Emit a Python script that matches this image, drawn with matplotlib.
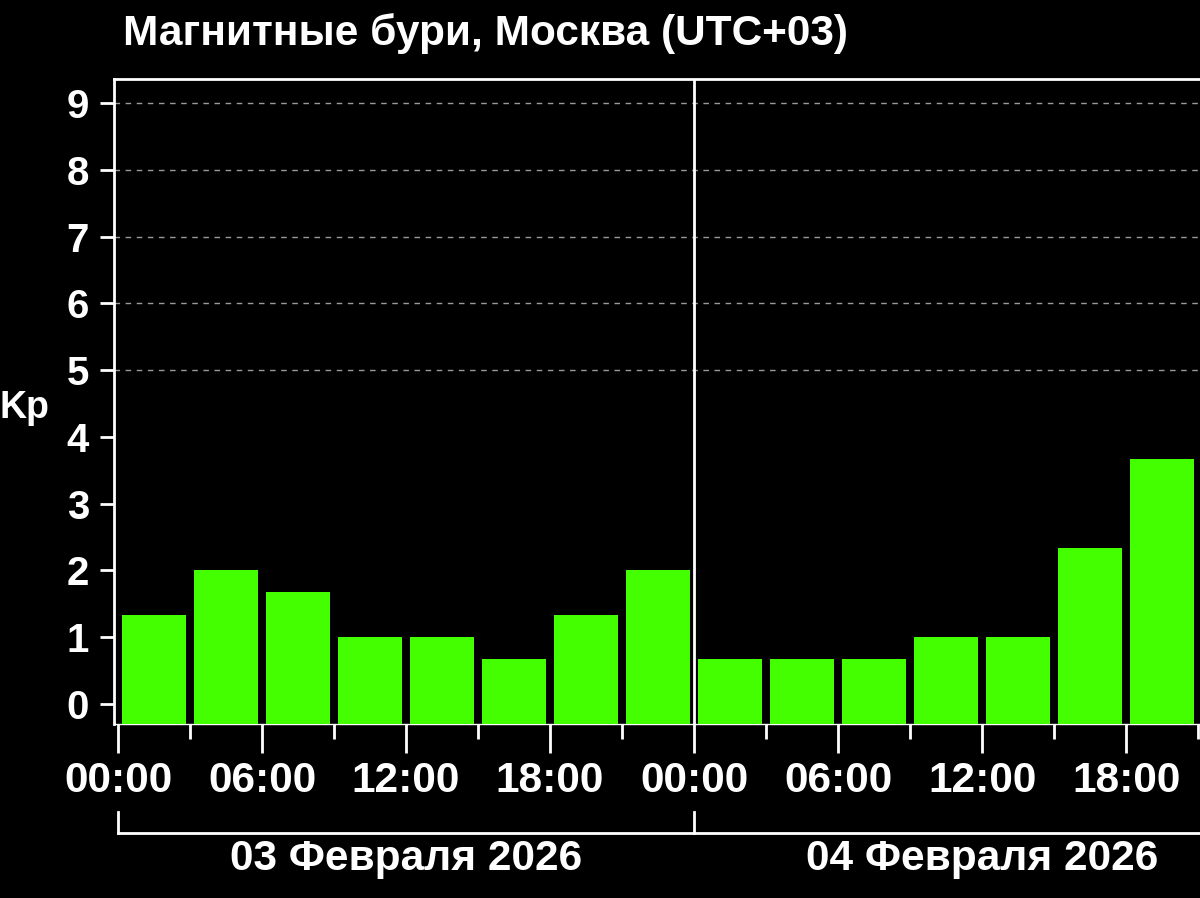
import matplotlib
matplotlib.use("Agg")
import matplotlib.pyplot as plt

# Kp-индекс, интервалы по 3 часа (Москва, UTC+03)
часы = [1.5, 4.5, 7.5, 10.5, 13.5, 16.5, 19.5, 22.5,
        25.5, 28.5, 31.5, 34.5, 37.5, 40.5, 43.5]
kp = [1.33, 2.0, 1.67, 1.0, 1.0, 0.67, 1.33, 2.0,
      0.67, 0.67, 0.67, 1.0, 1.0, 2.33, 3.67]
major_ticks = [0, 6, 12, 18, 24, 30, 36, 42]
major_labels = ["00:00", "06:00", "12:00", "18:00", "00:00", "06:00", "12:00", "18:00"]
minor_ticks = [3, 9, 15, 21, 27, 33, 39, 45]
y_ticks = [0, 1, 2, 3, 4, 5, 6, 7, 8, 9]
grid_levels = [5, 6, 7, 8, 9]
дни = ["03 Февраля 2026", "04 Февраля 2026"]
дни_центр = [12, 36]
дни_начало = [0, 24]

Y_MIN, Y_MAX = -0.30, 9.36

plt.rcParams["font.family"] = ["Liberation Sans", "DejaVu Sans"]
plt.rcParams["font.weight"] = "bold"

fig = plt.figure(figsize=(12, 8.98), dpi=100, facecolor="black")
ax = fig.add_axes([114 / 1200, 1 - 724 / 898, 1 - 114 / 1200, (724 - 79) / 898])
ax.set_facecolor("black")

# столбики идут от низа оси
ax.bar(часы, [k - Y_MIN for k in kp], bottom=Y_MIN, width=2.67, color="#44ff00", zorder=3)

for lv in grid_levels:
    ax.axhline(lv, color="#9a9a9a", lw=1, ls=(0, (4, 4)), zorder=1)
ax.axvline(24, color="white", lw=2, zorder=4)

ax.set_xlim(-0.167, 45.08)
ax.set_ylim(Y_MIN, Y_MAX)

for s in ["left", "top", "bottom"]:
    ax.spines[s].set_color("white")
    ax.spines[s].set_linewidth(2)
ax.spines["bottom"].set_linewidth(1)
ax.spines["right"].set_visible(False)

ax.set_yticks(y_ticks)
ax.set_xticks(major_ticks)
ax.set_xticklabels(major_labels)
ax.set_xticks(minor_ticks, minor=True)
ax.tick_params(axis="y", colors="white", labelsize=29, length=10, width=2, pad=8)
ax.tick_params(axis="x", which="major", colors="white", labelsize=30.5, length=21, width=2, pad=6)
ax.tick_params(axis="x", which="minor", colors="white", length=11, width=2)
for t in ax.get_xticklabels() + ax.get_yticklabels():
    t.set_fontweight("bold")

# скобки под датами
tr = ax.get_xaxis_transform()
y_br = (724 - 833) / 645
y_br_top = (724 - 812) / 645
ax.plot([0, 45.08], [y_br, y_br], color="white", lw=2, transform=tr, clip_on=False)
for x0 in дни_начало:
    ax.plot([x0, x0], [y_br_top, y_br], color="white", lw=2, transform=tr, clip_on=False)
for name, xc in zip(дни, дни_центр):
    ax.text(xc, (724 - 859) / 645, name, transform=tr, ha="center", va="center",
            color="white", fontsize=30.5, fontweight="bold")

fig.text(0.0, 1 - 408 / 898, "Kp", ha="left", va="center", color="white",
         fontsize=27, fontweight="bold")
fig.text(123 / 1200, 1 - 34 / 898, "Магнитные бури, Москва (UTC+03)", ha="left",
         va="center", color="white", fontsize=30.5, fontweight="bold")

fig.savefig("out.png", dpi=100, facecolor="black")
